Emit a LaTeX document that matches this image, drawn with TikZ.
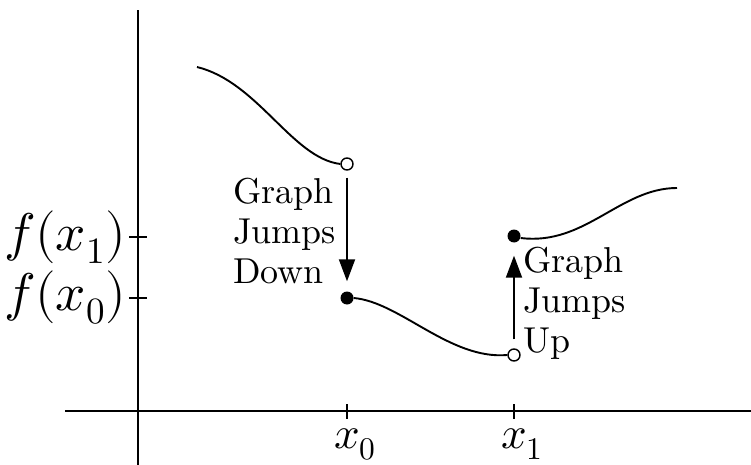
\documentclass[tikz,border=0pt]{standalone}
\usepackage{fontspec}
\usepackage{unicode-math}
\setmathfont{Latin Modern Math}
\newfontfamily\tenrm{lmroman10-regular.otf}
\usetikzlibrary{arrows.meta}
\tikzset{
  ln/.style={line width=1.9pt},
  opendot/.style={circle,draw,fill=white,line width=1.4pt,minimum size=12pt,inner sep=0pt},
  fulldot/.style={circle,fill=black,minimum size=13pt,inner sep=0pt},
  jump/.style={line width=1.9pt,-{Triangle[length=22pt,width=16pt]}},
  txt/.style={font=\tenrm\fontsize{36}{40}\selectfont,align=left,inner sep=0pt},
  flab/.style={font=\fontsize{53}{56}\selectfont,inner sep=0pt},
  xlab/.style={font=\fontsize{45}{50}\selectfont,inner sep=0pt},
}
\begin{document}
\begin{tikzpicture}[x=1pt,y=-1pt]
\useasboundingbox (0,0) rectangle (751,465);
% axes
\coordinate (yb) at (138,465);
\coordinate (yt) at (138,10);
\coordinate (xl) at (65,411);
\coordinate (xr) at (751,411);
\draw[ln] (yb) -- (yt);
\draw[ln] (xl) -- (xr);
% ticks
\coordinate (t0a) at (347,404); \coordinate (t0b) at (347,419);
\coordinate (t1a) at (514,404); \coordinate (t1b) at (514,419);
\coordinate (f1a) at (129,237); \coordinate (f1b) at (147,237);
\coordinate (f0a) at (129,298); \coordinate (f0b) at (147,298);
\draw[ln] (t0a) -- (t0b);
\draw[ln] (t1a) -- (t1b);
\draw[ln] (f1a) -- (f1b);
\draw[ln] (f0a) -- (f0b);
% labels
\node[flab,anchor=east] (lf1) at (126,237) {$f(x_1)$};
\node[flab,anchor=east] (lf0) at (126,298) {$f(x_0)$};
\node[xlab,anchor=north west] (lx0) at (334,428) {$x_0$};
\node[xlab,anchor=north west] (lx1) at (501,428) {$x_1$};
% dots
\node[opendot] (o1) at (347,164) {};
\node[fulldot] (c1) at (347,298) {};
\node[opendot] (o2) at (514,355) {};
\node[fulldot] (c2) at (514,236) {};
% curves
\coordinate (s1) at (197,67);
\coordinate (e3) at (677,188);
\draw[ln] (s1) .. controls (258,82) and (292,158) .. (o1.west);
\draw[ln] (c1.east) .. controls (400,302) and (450,360) .. (o2.west);
\draw[ln] ([yshift=-2pt]c2.east) .. controls (585,246) and (620,188) .. (e3);
% jumps
\draw[jump] (o1.south) ++(0,7) -- ([yshift=10pt]c1.north);
\draw[jump] (o2.north) ++(0,-9) -- ([yshift=-13pt]c2.south);
% texts
\node[txt,anchor=base west] (tdown) at (233,283) {Graph\\Jumps\\Down};
\node[txt,anchor=base west] (tup) at (523,352) {Graph\\Jumps\\Up};
\end{tikzpicture}
\end{document}
